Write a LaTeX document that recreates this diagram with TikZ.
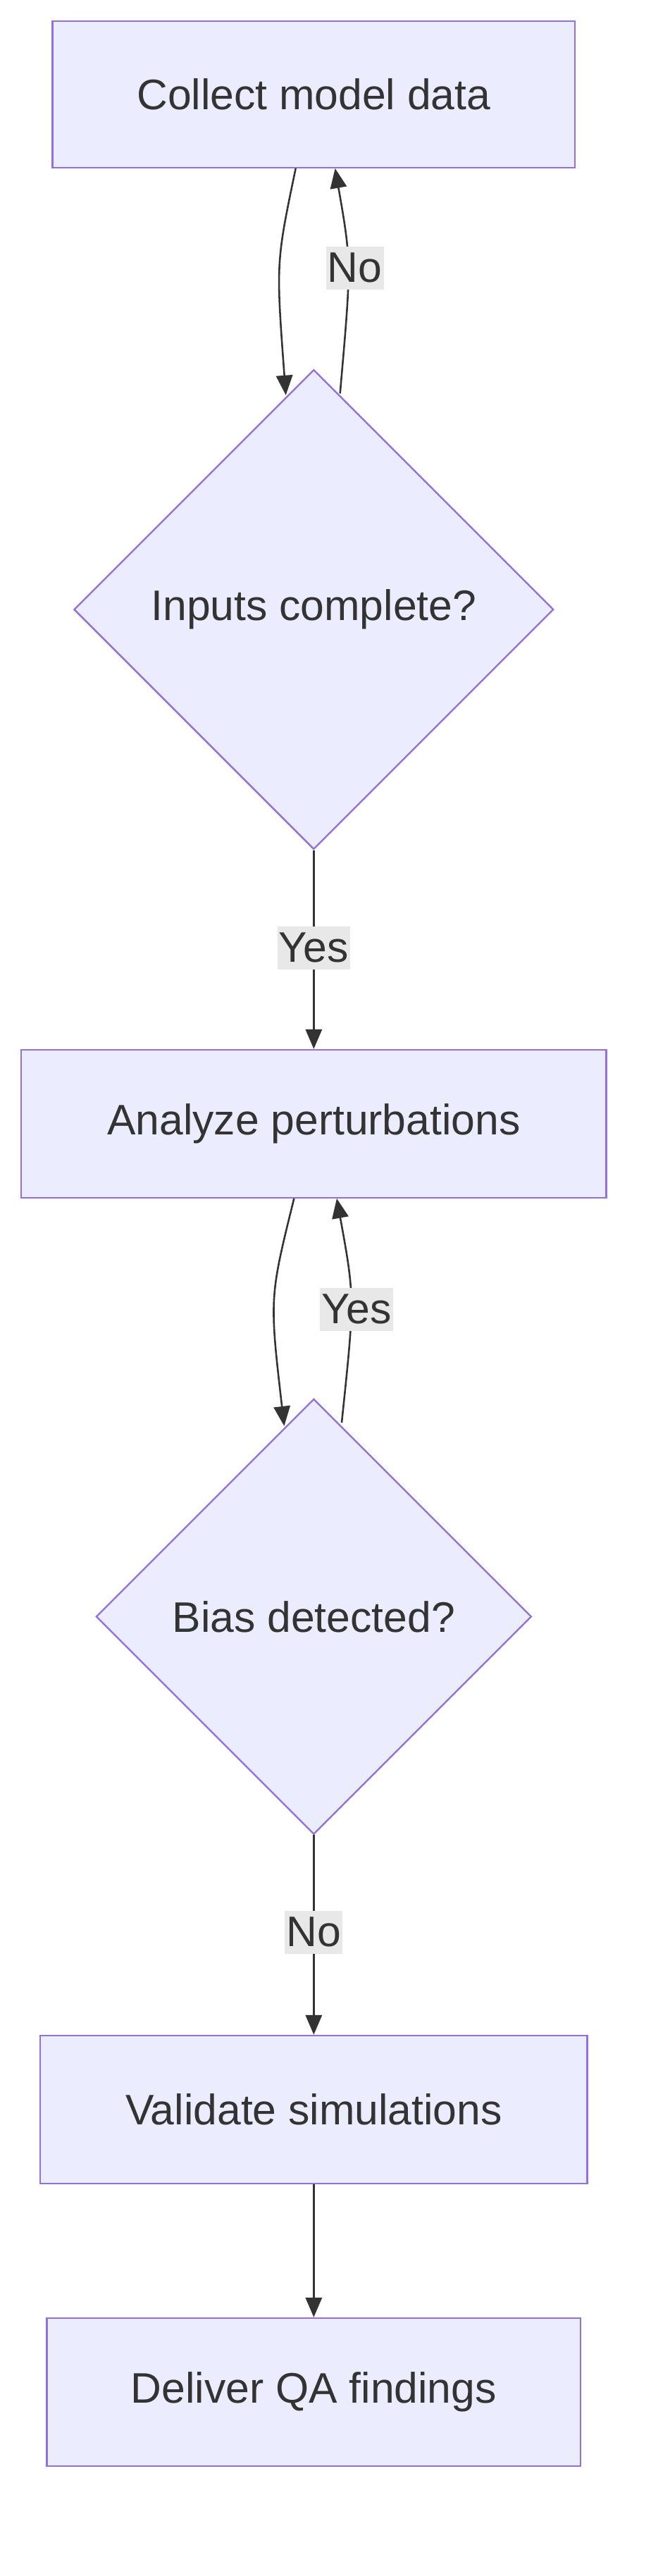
\documentclass[tikz,border=0pt]{standalone}
\usepackage{fontspec}
\setmainfont{Liberation Sans}
\usetikzlibrary{shapes.geometric,arrows.meta}
\definecolor{nfill}{HTML}{ECECFF}
\definecolor{nstroke}{HTML}{9370DB}
\definecolor{ink}{HTML}{333333}
\definecolor{lbl}{HTML}{E8E8E8}
\begin{document}
\begin{tikzpicture}[x=1pt,y=-1pt,
  box/.style={draw=nstroke,fill=nfill,line width=1pt,inner sep=0,text=ink,font=\fontsize{26}{31}\selectfont},
  dia/.style={box,diamond,aspect=1,minimum width=#1,minimum height=#1},
  edge/.style={draw=ink,line width=1.1pt,-{Triangle[length=12pt,width=10pt]}},
  lab/.style={fill=lbl,text=ink,inner xsep=1pt,inner ysep=4pt,font=\fontsize{26}{31}\selectfont}]
\useasboundingbox (0,0) rectangle (396,1568);
\node[box,minimum width=318pt,minimum height=89pt] (c) at (191,57.5) {Collect model data};
\node[dia=292pt] (d1) at (191,371) {Inputs complete?};
\node[box,minimum width=356pt,minimum height=90pt] (a) at (191,684) {Analyze perturbations};
\node[dia=265pt] (d2) at (191,984) {Bias detected?};
\node[box,minimum width=333pt,minimum height=90pt] (v) at (191,1284) {Validate simulations};
\node[box,minimum width=325pt,minimum height=90pt] (q) at (191,1456) {Deliver QA findings};
\draw[edge] ([xshift=-11pt]c.south) .. controls (168,160) .. ([shift={(-17pt,-16pt)}]d1.north);
\draw[edge] ([shift={(16pt,-15pt)}]d1.north) .. controls (214,160) .. ([xshift=13pt]c.south);
\node[lab] (l1) at (216,163) {No};
\draw[edge] (d1.south) -- (a.north);
\node[lab] (l2) at (191,577) {Yes};
\draw[edge] ([xshift=-12pt]a.south) .. controls (164,790) .. ([shift={(-18pt,-17pt)}]d2.north);
\draw[edge] ([shift={(17pt,-15pt)}]d2.north) .. controls (216,790) .. ([xshift=14pt]a.south);
\node[lab] (l3) at (217,797) {Yes};
\draw[edge] (d2.south) -- (v.north);
\node[lab] (l4) at (191,1176) {No};
\draw[edge] (v.south) -- (q.north);
\end{tikzpicture}
\end{document}
